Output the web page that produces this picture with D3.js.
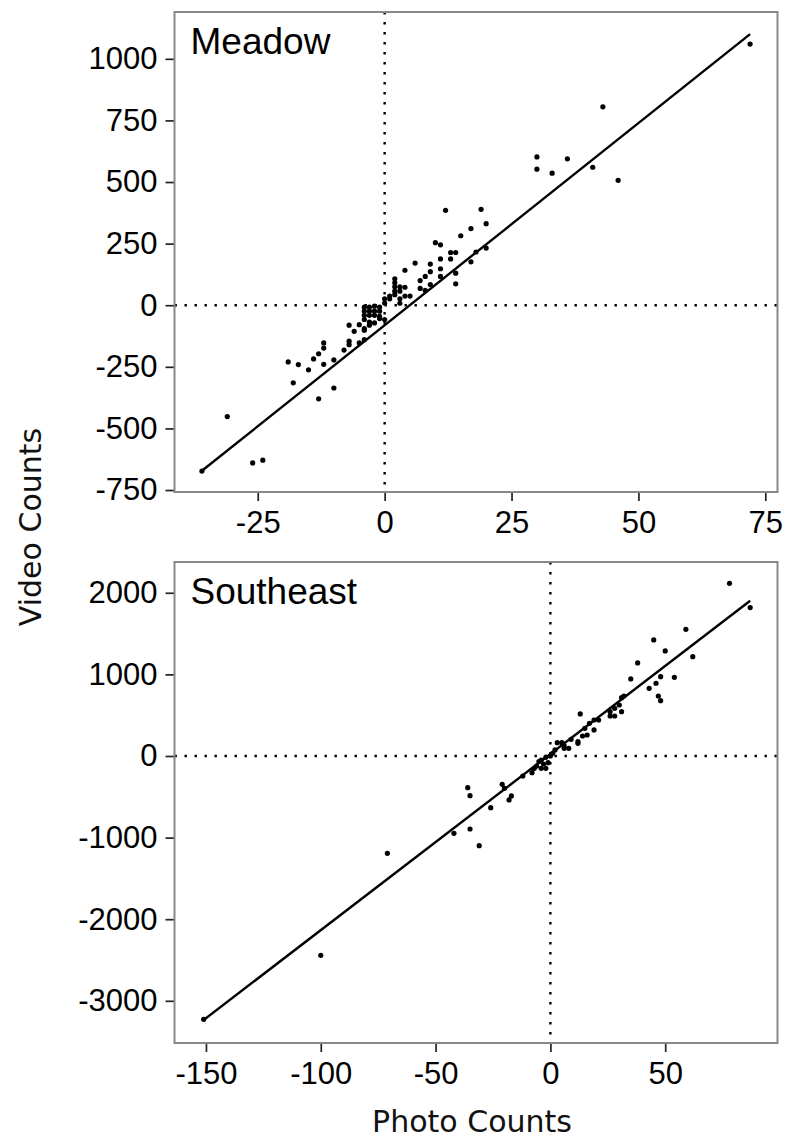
<!DOCTYPE html>
<html>
<head>
<meta charset="utf-8">
<script src="https://cdn.jsdelivr.net/npm/d3@7"></script>
<style>
  body { margin: 0; background: #fff; }
  svg { display: block; }
</style>
</head>
<body>
<div id="chart"></div>
<script>
// Meadow panel: photo count differences vs video count differences
const meadowPhoto = [72, 43, 30, 30, 33, 36, 41, 46, 12, 19, 20, 17, 15, 10, 11, 13, 14, 11, 13, 18,
  20, 17, 6, 9, 11, 14, 4, 9, 8, 7, 11, 9, 14, 7, 8, 2, 2, 2, 3, 4,
  3, 4, 5, 1, 2, 3, 3, 0, 0, 1, 2, -4, -3, -2, -1, -4, -3, -2, -1, -4,
  -3, -2, -1, 0, -4, -3, -2, -1, -5, -4, -7, -6, -4, -3, -7, -7, -5, -4, -8, -10,
  -10, -12, -12, -13, -14, -12, -15, -17, -19, -18, -13, -31, -26, -24, -36];
const meadowVideo = [1060, 805, 602, 552, 536, 594, 560, 507, 385, 389, 331, 311, 282, 254, 245, 214, 214, 188, 188, 216,
  232, 176, 171, 167, 148, 130, 142, 136, 117, 100, 117, 84, 87, 68, 60, 107, 91, 75, 75, 73,
  57, 37, 37, 37, 57, 26, 8, 26, 9, 26, 43, -8, -8, -4, -8, -24, -24, -24, -24, -41,
  -41, -41, -45, -58, -58, -68, -72, -54, -79, -95, -81, -106, -102, -81, -146, -160, -153, -140, -182, -222,
  -336, -153, -174, -197, -218, -240, -262, -241, -230, -315, -380, -452, -640, -629, -673];

// Southeast panel
const southeastPhoto = [78, 87, 59, 45, 50, 62, 38, 35, 48, 54, 43, 46, 47, 48, 31, 32, 30, 28, 26, 31,
  26, 28, 13, 21, 19, 17, 19, 15, 16, 14, 9, 12, 12, 3, 5, 6, 8, 6, 2, 1,
  0, -2, -4, -5, -3, -4, -2, -6, -1, -7, -8, -12, -21, -20, -17, -18, -26, -36, -35, -42,
  -35, -31, -71, -100, -151];
const southeastVideo = [2116, 1818, 1552, 1422, 1287, 1217, 1140, 944, 972, 964, 829, 891, 735, 678, 715, 735, 625, 584, 543, 543,
  490, 490, 515, 441, 441, 400, 319, 339, 257, 245, 204, 176, 155, 163, 163, 123, 94, 94, 74, 33,
  0, -16, -49, -69, -98, -151, -151, -123, -82, -151, -204, -245, -347, -396, -490, -539, -633, -388, -486, -948,
  -895, -1099, -1193, -2443, -3227];

// fitted line end points
const meadowFitX = [-36, 72];
const meadowFitY = [-672, 1100];
const southeastFitX = [-151, 87];
const southeastFitY = [-3235, 1903];

// tick values
const meadowXTicks = [-25, 0, 25, 50, 75];
const meadowYTicks = [-750, -500, -250, 0, 250, 500, 750, 1000];
const southeastXTicks = [-150, -100, -50, 0, 50];
const southeastYTicks = [-3000, -2000, -1000, 0, 1000, 2000];

const width = 785;
const height = 1141;

const svg = d3
  .select("#chart")
  .append("svg")
  .attr("width", width)
  .attr("height", height);

svg.append("rect").attr("width", width).attr("height", height).attr("fill", "#fff");

const drawPanel = (opts) => {
  const { top, bottom, label, px, py, fitX, fitY, xDomain, yDomain, xTicks, yTicks } = opts;
  const left = 174.5;
  const right = 777.5;

  const x = d3.scaleLinear().domain(xDomain).range([left, right]);
  const y = d3.scaleLinear().domain(yDomain).range([bottom, top]);

  const g = svg.append("g");

  //dotted zero lines
  g.append("line")
    .attr("x1", left)
    .attr("x2", right)
    .attr("y1", y(0))
    .attr("y2", y(0))
    .attr("stroke", "#000")
    .attr("stroke-width", 2.4)
    .attr("stroke-dasharray", "2.4,7.6");
  g.append("line")
    .attr("x1", x(0))
    .attr("x2", x(0))
    .attr("y1", top)
    .attr("y2", bottom)
    .attr("stroke", "#000")
    .attr("stroke-width", 2.4)
    .attr("stroke-dasharray", "2.4,7.6");

  //regression line
  g.append("line")
    .attr("x1", x(fitX[0]))
    .attr("y1", y(fitY[0]))
    .attr("x2", x(fitX[1]))
    .attr("y2", y(fitY[1]))
    .attr("stroke", "#000")
    .attr("stroke-width", 2.4);

  //points
  g.selectAll("circle")
    .data(px)
    .enter()
    .append("circle")
    .attr("cx", (d) => x(d))
    .attr("cy", (d, i) => y(py[i]))
    .attr("r", 2.6)
    .attr("fill", "#000");

  //axes
  const yAxis = g
    .append("g")
    .attr("transform", `translate(${left},0)`)
    .call(d3.axisLeft(y).tickValues(yTicks).tickSize(9).tickPadding(8));
  const xAxis = g
    .append("g")
    .attr("transform", `translate(0,${bottom})`)
    .call(d3.axisBottom(x).tickValues(xTicks).tickSize(9).tickPadding(10));

  [xAxis, yAxis].forEach((a) => {
    a.select(".domain").remove();
    a.selectAll(".tick line").attr("stroke", "#222").attr("stroke-width", 1.7);
    a.selectAll(".tick text")
      .attr("fill", "#000")
      .style("font-family", "'Liberation Sans', Arial, sans-serif")
      .style("font-size", "31px");
  });
  // plain hyphen for negative labels, as in the reference
  g.selectAll(".tick text").text((d) => String(d));

  //panel border
  g.append("rect")
    .attr("x", left)
    .attr("y", top)
    .attr("width", right - left)
    .attr("height", bottom - top)
    .attr("fill", "none")
    .attr("stroke", "#888")
    .attr("stroke-width", 2);

  //panel label
  g.append("text")
    .attr("x", left + 16)
    .attr("y", top + 42)
    .style("font-family", "'Liberation Sans', Arial, sans-serif")
    .style("font-size", "37px")
    .attr("fill", "#000")
    .text(label);
};

drawPanel({
  top: 12,
  bottom: 492,
  label: "Meadow",
  px: meadowPhoto,
  py: meadowVideo,
  fitX: meadowFitX,
  fitY: meadowFitY,
  xDomain: [-41.4, 77.4],
  yDomain: [-758, 1190],
  xTicks: meadowXTicks,
  yTicks: meadowYTicks,
});

drawPanel({
  top: 562,
  bottom: 1043,
  label: "Southeast",
  px: southeastPhoto,
  py: southeastVideo,
  fitX: southeastFitX,
  fitY: southeastFitY,
  xDomain: [-163.7, 98.9],
  yDomain: [-3517, 2377],
  xTicks: southeastXTicks,
  yTicks: southeastYTicks,
});

//axis titles
svg
  .append("text")
  .attr("x", 472)
  .attr("y", 1132)
  .attr("text-anchor", "middle")
  .style("font-family", "'DejaVu Sans', sans-serif")
  .style("font-size", "30px")
  .attr("fill", "#111")
  .text("Photo Counts");

svg
  .append("text")
  .attr("transform", "translate(41,527) rotate(-90)")
  .attr("text-anchor", "middle")
  .style("font-family", "'DejaVu Sans', sans-serif")
  .style("font-size", "30px")
  .attr("fill", "#111")
  .text("Video Counts");
</script>
</body>
</html>
